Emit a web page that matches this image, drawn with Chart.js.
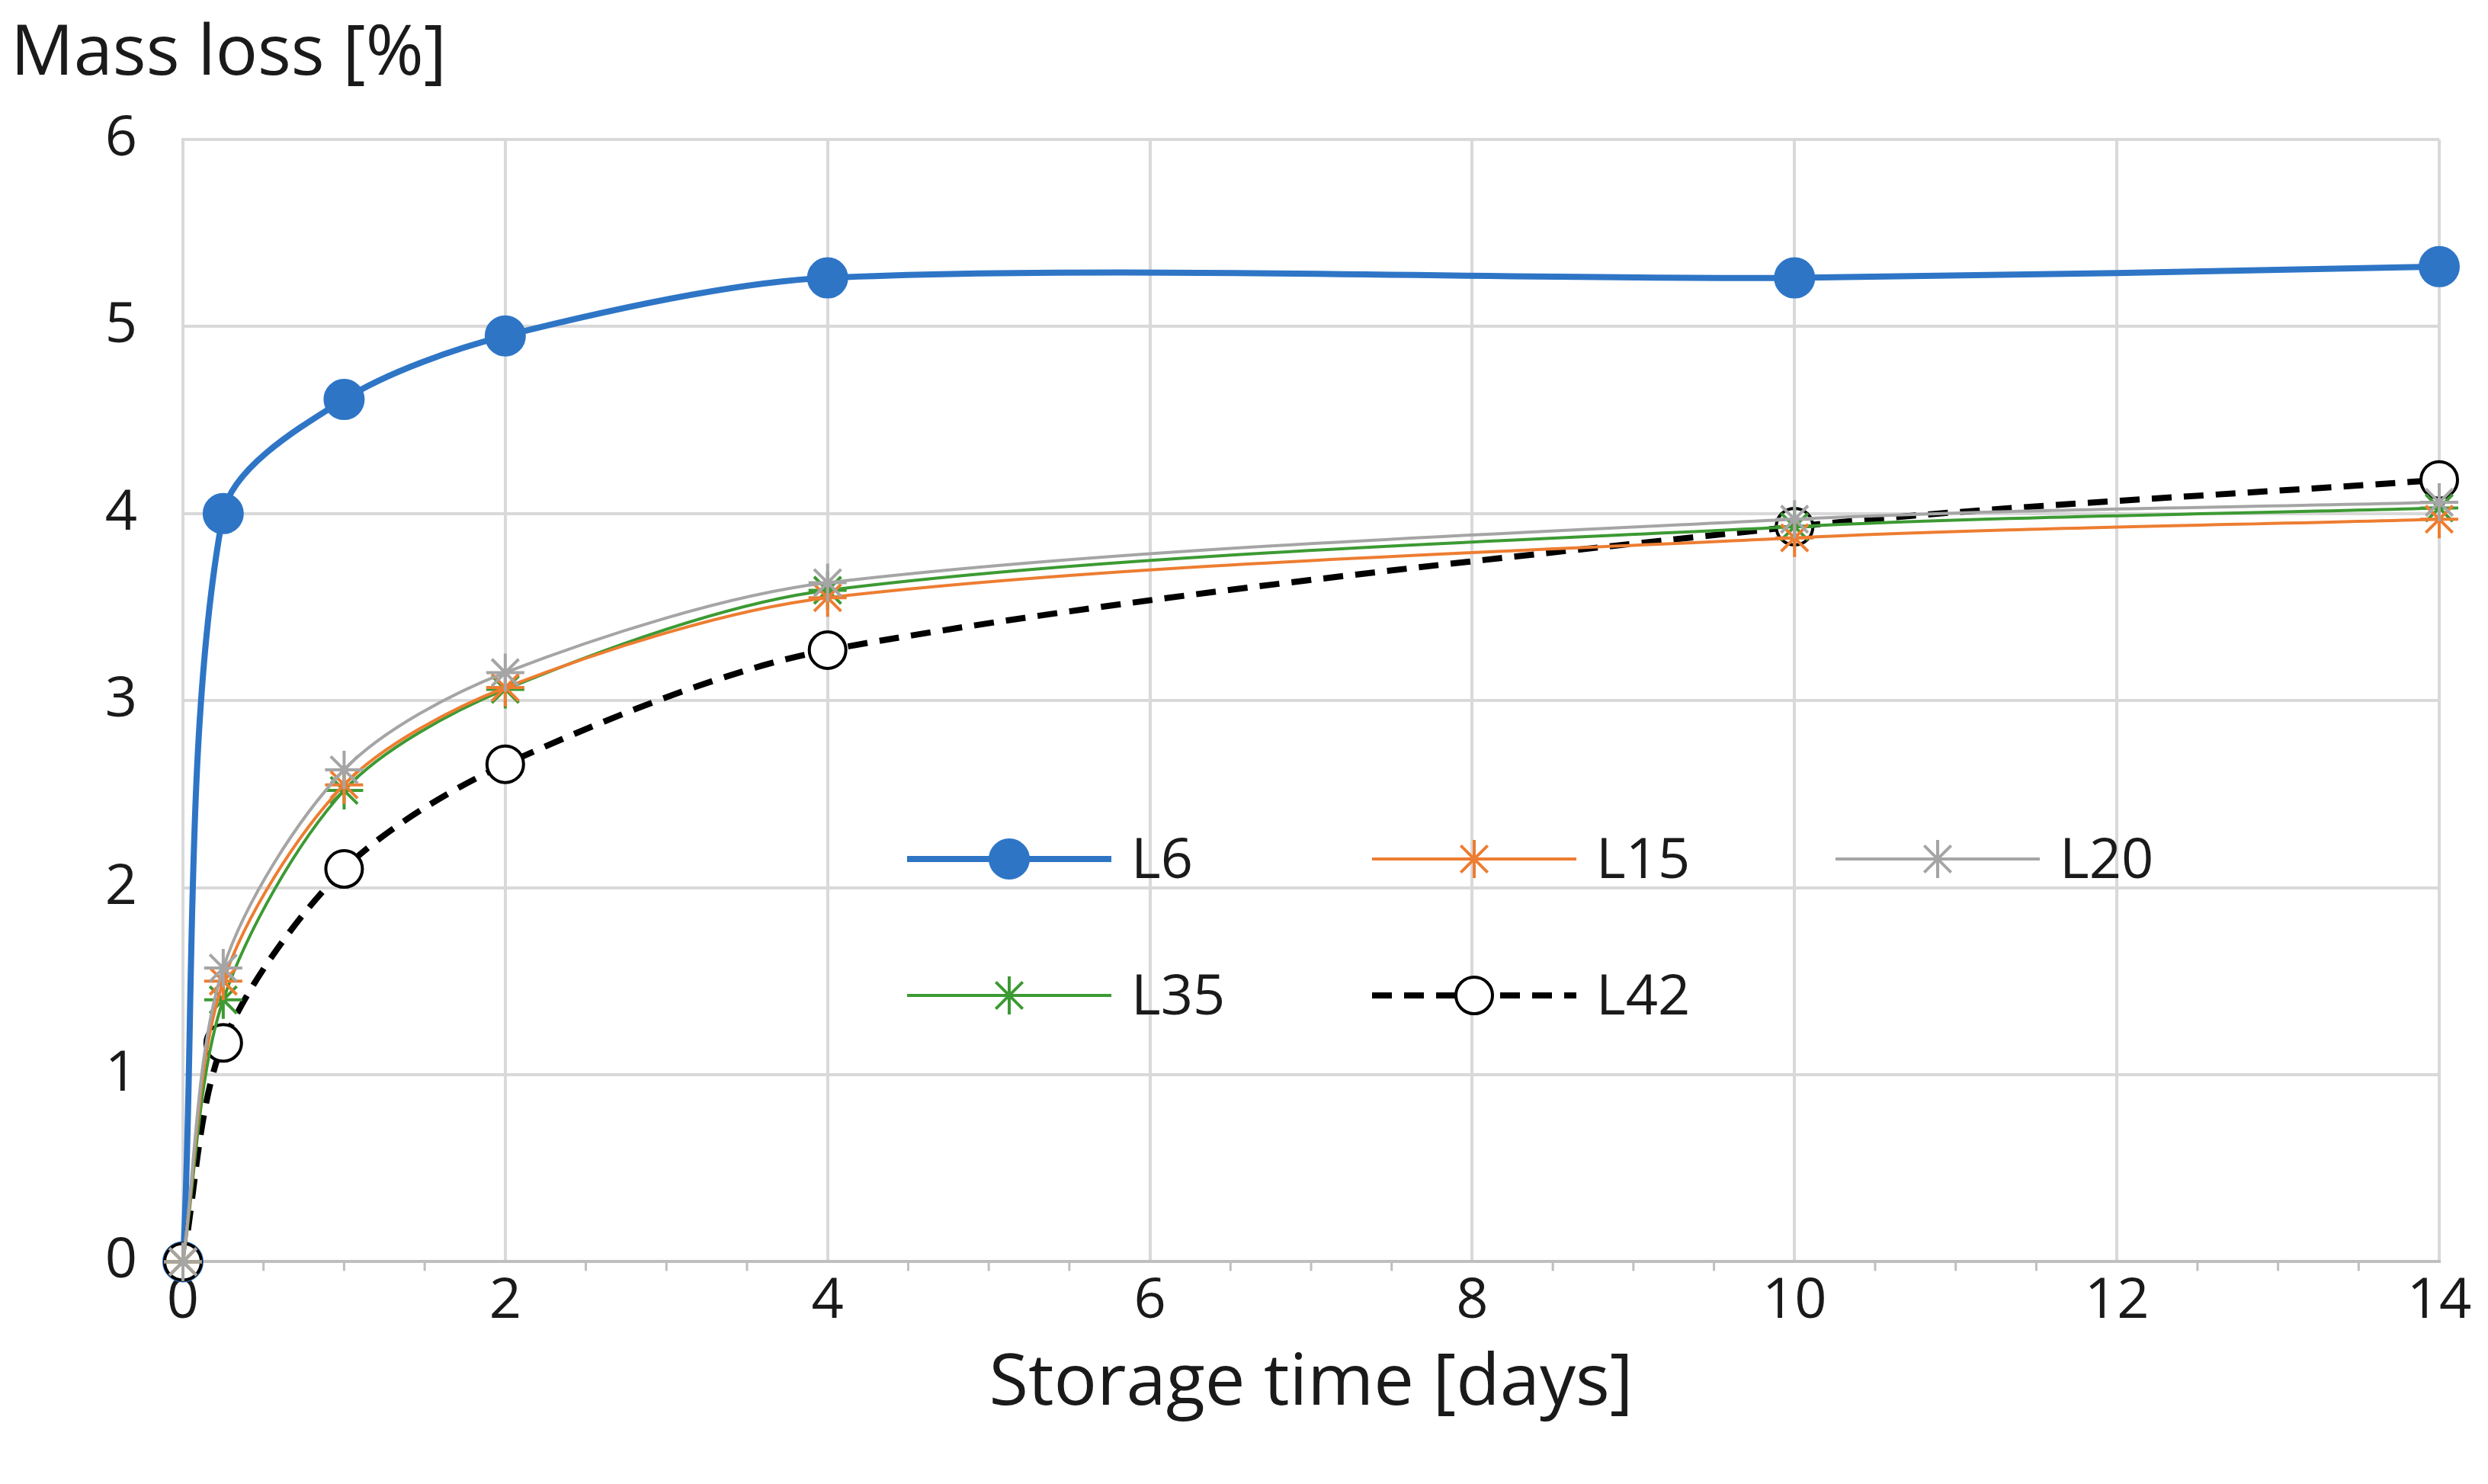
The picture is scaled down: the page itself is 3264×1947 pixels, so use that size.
<!DOCTYPE html>
<html><head><meta charset="utf-8">
<script src="https://cdn.jsdelivr.net/npm/chart.js@4/dist/chart.umd.min.js"></script>
<style>body{margin:0;background:#fff}canvas{display:block}</style>
</head><body>
<canvas id="c" width="3264" height="1947"></canvas>
<script>
const days = [0, 0.25, 1, 2, 4, 10, 14];
const L6  = [0, 4.00, 4.61, 4.95, 5.26, 5.26, 5.32];
const L15 = [0, 1.50, 2.55, 3.07, 3.55, 3.87, 3.97];
const L20 = [0, 1.57, 2.63, 3.15, 3.63, 3.97, 4.06];
const L35 = [0, 1.40, 2.52, 3.06, 3.59, 3.93, 4.03];
const L42 = [0, 1.17, 2.10, 2.66, 3.27, 3.93, 4.18];
const FONT = "'Open Sans', sans-serif";
const pts = arr => arr.map((v,i)=>({x:days[i], y:v}));

function ds(label, data, color, o){
  return Object.assign({label, data:pts(data), borderColor:color, backgroundColor:color,
    pointBorderColor:color, pointBackgroundColor:color, borderWidth:4,
    pointStyle:'star', pointRadius:25, pointBorderWidth:4, tension:0.3, clip:false}, o||{});
}
const datasets = [
  ds('L20', L20, '#a5a5a5'),
  ds('L15', L15, '#ed7d31'),
  ds('L35', L35, '#3c9a33'),
  ds('L42', L42, '#000', {borderDash:[26,16], borderWidth:8, pointStyle:'circle', pointRadius:24,
     pointBackgroundColor:'#fff', pointBorderWidth:4}),
  ds('L6', L6, '#2e75c6', {borderWidth:8, pointStyle:'circle', pointRadius:25}),
];

const extras = {
  id:'extras',
  afterDraw(ch){
    const c = ch.ctx, xs = ch.scales.x, ys = ch.scales.y;
    c.save();
    c.strokeStyle = '#bfbfbf'; c.lineWidth = 3;
    for(let v=0; v<=14.001; v+=0.5){
      const px = xs.getPixelForValue(v);
      c.beginPath(); c.moveTo(px, ys.bottom); c.lineTo(px, ys.bottom + (v%2===0?0:12)); c.stroke();
    }
    c.fillStyle = '#1a1a1a'; c.font = `92px ${FONT}`; c.textBaseline = 'alphabetic';
    c.fillText('Mass loss [%]', 14, 98);
    const items = [
      ['L6', 1190, 1127], ['L15', 1800, 1127], ['L20', 2408, 1127],
      ['L35', 1190, 1306], ['L42', 1800, 1306]];
    c.font = `74px ${FONT}`; c.textBaseline = 'middle';
    items.forEach(([name, x, y])=>{
      const d = ch.data.datasets.find(s=>s.label===name);
      c.strokeStyle = d.borderColor; c.lineWidth = d.borderWidth;
      c.setLineDash(d.borderDash || []);
      c.beginPath(); c.moveTo(x, y); c.lineTo(x+268, y); c.stroke();
      c.setLineDash([]);
      c.fillStyle = d.pointBackgroundColor; c.strokeStyle = d.pointBorderColor; c.lineWidth = d.pointBorderWidth;
      Chart.helpers.drawPoint(c, {pointStyle:d.pointStyle, radius:d.pointRadius, borderWidth:d.pointBorderWidth}, x+134, y);
      c.fillStyle = '#1a1a1a';
      c.fillText(name, x+294, y+4);
    });
    c.restore();
  }
};

new Chart(document.getElementById('c'), {
  type:'line',
  data:{datasets},
  options:{
    responsive:false, devicePixelRatio:1, animation:false,
    layout:{padding:{top:183, right:64, left:14, bottom:70}},
    plugins:{legend:{display:false}, tooltip:{enabled:false}},
    scales:{
      x:{type:'linear', min:0, max:14,
        ticks:{stepSize:2, color:'#1a1a1a', font:{family:FONT, size:74}, padding:8},
        grid:{color:'#d9d9d9', lineWidth:4, drawTicks:false},
        border:{color:'#bfbfbf', width:4},
        title:{display:true, text:'Storage time [days]', color:'#1a1a1a', font:{family:FONT, size:94}, padding:{top:0}}},
      y:{min:0, max:6,
        afterFit(s){ s.width = 226; },
        ticks:{stepSize:1, color:'#1a1a1a', font:{family:FONT, size:74}, padding:60},
        grid:{color:'#d9d9d9', lineWidth:4, drawTicks:false},
        border:{color:'#d9d9d9', width:4}}
    }
  },
  plugins:[extras]
});
</script>
</body></html>
